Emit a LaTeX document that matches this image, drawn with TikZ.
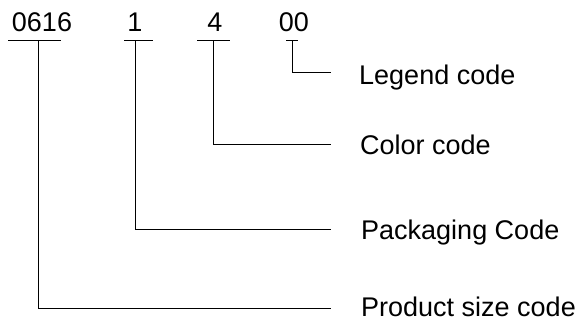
\documentclass[tikz,border=0pt]{standalone}
\usepackage{fontspec}
\setmainfont{Liberation Sans}
\usetikzlibrary{positioning}

\tikzset{
  digit/.style={inner sep=0pt, anchor=base, font=\fontsize{27}{32}\selectfont},
  codelbl/.style={inner sep=0pt, anchor=base west, font=\fontsize{27}{32}\selectfont},
  leader/.style={line width=1pt, black},
}

\begin{document}
\begin{tikzpicture}[x=1pt, y=-1pt]
              % Frame
              \useasboundingbox (0,0) rectangle (581,323);

              % the code digits
              \node[digit] (size) at (42,32) {0616};
              \node[digit] (pack) at (135,32) {1};
              \node[digit] (color) at (215,32) {4};
              \node[digit] (legend) at (294,32) {00};

              % tap points under the digits
              \coordinate (sizetap) at (38,41);
              \coordinate (packtap) at (135,41);
              \coordinate (colortap) at (213,41);
              \coordinate (legendtap) at (292,41);

              % underlines
              \begin{scope}[leader]
                \draw ([xshift=-30]sizetap) -- ([xshift=23]sizetap);
                \draw ([xshift=-11]packtap) -- ([xshift=18]packtap);
                \draw ([xshift=-16]colortap) -- ([xshift=17]colortap);
                \draw ([xshift=-6]legendtap) -- ([xshift=6]legendtap);
              \end{scope}

              % labels
              \node[codelbl] (legendlbl) at (359,85) {Legend code};
              \node[codelbl] (colorlbl) at (360,155) {Color code};
              \node[codelbl] (packlbl) at (361,240) {Packaging Code};
              \node[codelbl] (sizelbl) at (361,316) {Product size code};

              % line ends in front of the labels
              \coordinate (legendend) at (331,73);
              \coordinate (colorend) at (331,145);
              \coordinate (packend) at (331,230);
              \coordinate (sizeend) at (331,308);

              % leaders
              \begin{scope}[leader]
                \draw (legendtap) |- (legendend);
                \draw (colortap) |- (colorend);
                \draw (packtap) |- (packend);
                \draw (sizetap) |- (sizeend);
              \end{scope}
        \end{tikzpicture}
\end{document}
